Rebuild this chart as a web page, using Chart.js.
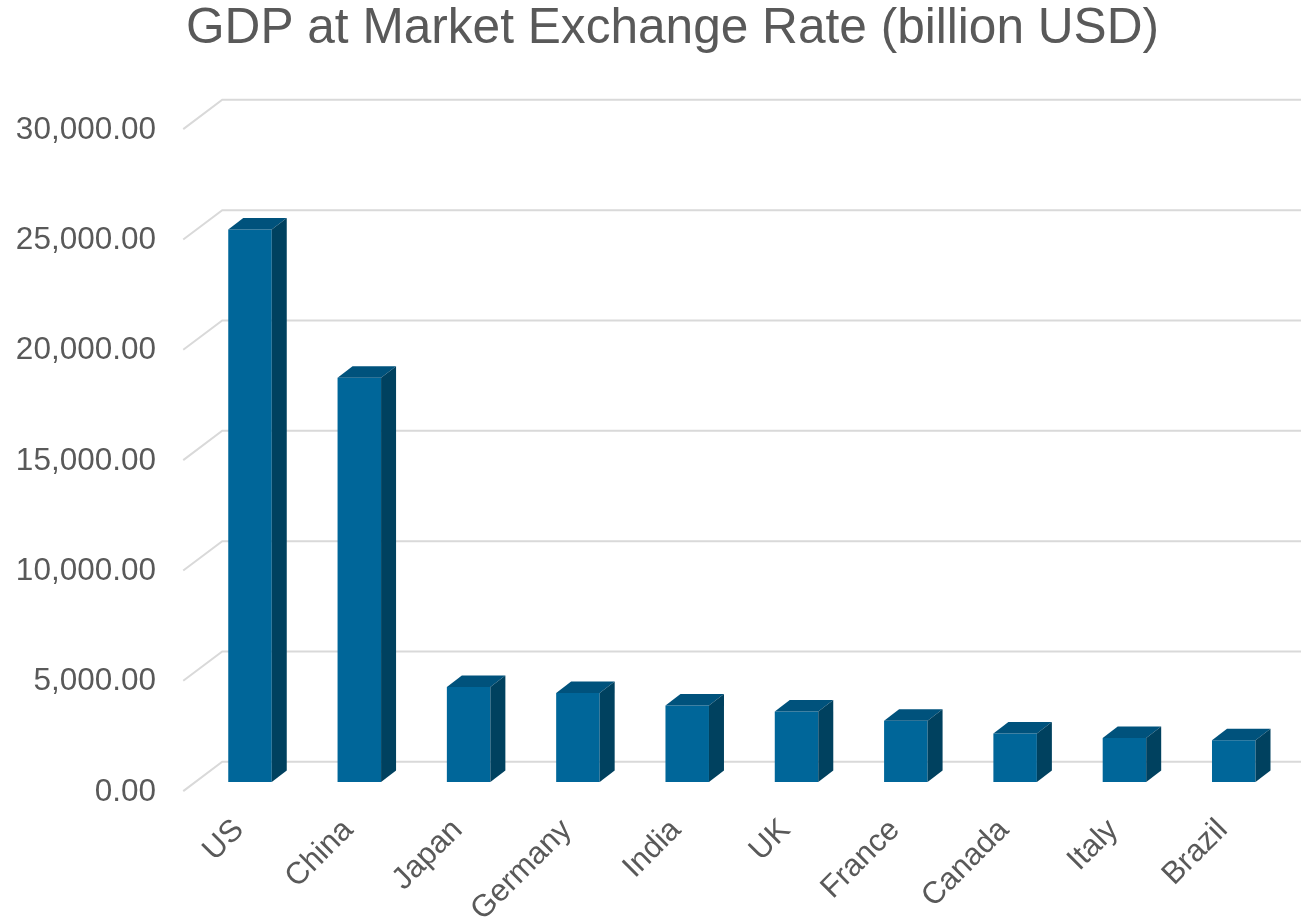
<!DOCTYPE html>
<html>
<head>
<meta charset="utf-8">
<title>GDP at Market Exchange Rate</title>
<script src="https://cdn.jsdelivr.net/npm/chart.js@4.4.1/dist/chart.umd.min.js"></script>
<style>
  html, body { margin: 0; padding: 0; background: #fff; }
  #wrap { width: 1301px; height: 919px; position: relative; }
</style>
</head>
<body>
<div id="wrap"><canvas id="gdpChart"></canvas></div>
<script>
// Países e PIB (bilhões de USD)
const countries = ['US', 'China', 'Japan', 'Germany', 'India', 'UK', 'France', 'Canada', 'Italy', 'Brazil'];
const gdpValues = [25035.16, 18321.20, 4300.62, 4031.15, 3468.57, 3198.47, 2778.09, 2200.35, 1996.93, 1894.71];
const yMin = 0;
const yMax = 30000;
const yStep = 5000;

const textColor = '#595959';
const fontFamily = '"Liberation Sans", Arial, sans-serif';

// profundidade do "3D": frente e fundo em relação ao plano das barras
const FRONT = { x: -12.1, y: 9.1 };
const BACK = { x: 26.9, y: -20.2 };
const BAR_DEPTH = { x: 15, y: -11.5 };

const cores = {
    frente: '#006699',
    topo: '#00527c',
    lado: '#00415f',
    grade: '#d9d9d9'
};

function formatarNumero(valor) {
    return Number(valor).toLocaleString('en-US', { minimumFractionDigits: 2, maximumFractionDigits: 2 });
}

// desenha grade em perspectiva e as faces laterais/superiores das barras
const efeito3d = {
    id: 'efeito3d',
    afterLayout(chart) {
        // título centralizado sobre a área do gráfico em perspectiva
        if (chart.titleBlock) chart.titleBlock.left += 56.6;
    },
    beforeDatasetsDraw(chart) {
        const { ctx, chartArea } = chart;
        const y = chart.scales.y;
        ctx.save();
        ctx.strokeStyle = cores.grade;
        ctx.lineWidth = 2;
        y.ticks.forEach(t => {
            const py = y.getPixelForValue(t.value);
            ctx.beginPath();
            ctx.moveTo(chartArea.left + FRONT.x, py + FRONT.y);
            ctx.lineTo(chartArea.left + BACK.x, py + BACK.y);
            ctx.lineTo(chart.width, py + BACK.y);
            ctx.stroke();
        });
        ctx.restore();
    },
    afterDatasetsDraw(chart) {
        const { ctx } = chart;
        const meta = chart.getDatasetMeta(0);
        ctx.save();
        meta.data.forEach(bar => {
            const { x, y, base, width } = bar.getProps(['x', 'y', 'base', 'width'], true);
            const l = x - width / 2;
            const r = x + width / 2;

            // topo
            ctx.fillStyle = cores.topo;
            ctx.beginPath();
            ctx.moveTo(l, y);
            ctx.lineTo(l + BAR_DEPTH.x, y + BAR_DEPTH.y);
            ctx.lineTo(r + BAR_DEPTH.x, y + BAR_DEPTH.y);
            ctx.lineTo(r, y);
            ctx.closePath();
            ctx.fill();

            // lateral
            ctx.fillStyle = cores.lado;
            ctx.beginPath();
            ctx.moveTo(r, y);
            ctx.lineTo(r + BAR_DEPTH.x, y + BAR_DEPTH.y);
            ctx.lineTo(r + BAR_DEPTH.x, base + BAR_DEPTH.y);
            ctx.lineTo(r, base);
            ctx.closePath();
            ctx.fill();
        });
        ctx.restore();
    }
};

const ctx = document.getElementById('gdpChart').getContext('2d');
const chartGdp = new Chart(ctx, {
    type: 'bar',
    data: {
        labels: countries,
        datasets: [{
            label: 'GDP',
            data: gdpValues,
            backgroundColor: cores.frente,
            borderWidth: 0,
            categoryPercentage: 1,
            barPercentage: 0.398
        }]
    },
    plugins: [efeito3d],
    options: {
        responsive: true,
        maintainAspectRatio: false,
        animation: false,
        devicePixelRatio: 1,
        layout: { padding: { left: 0, right: 12.6, top: 0, bottom: 0 } },
        scales: {
            y: {
                min: yMin,
                max: yMax,
                grid: { display: false, drawTicks: false },
                border: { display: false },
                ticks: {
                    stepSize: yStep,
                    color: textColor,
                    font: { family: fontFamily, size: 31.5 },
                    padding: 39.35,
                    labelOffset: 10,
                    callback: v => formatarNumero(v)
                },
                afterFit(scale) { scale.width = 195.35; }
            },
            x: {
                grid: { display: false, drawTicks: false },
                border: { display: false },
                ticks: {
                    color: textColor,
                    font: { family: fontFamily, size: 31 },
                    minRotation: 45,
                    maxRotation: 45,
                    padding: 30,
                    labelOffset: -11,
                    autoSkip: false
                },
                afterFit(scale) { scale.height = 137; }
            }
        },
        plugins: {
            legend: { display: false },
            tooltip: { enabled: false },
            title: {
                display: true,
                text: 'GDP at Market Exchange Rate (billion USD)',
                color: textColor,
                font: { family: fontFamily, size: 49.6, weight: 'normal', lineHeight: 1.2 },
                padding: { top: 0, bottom: 60.5 }
            }
        }
    }
});
</script>
</body>
</html>
